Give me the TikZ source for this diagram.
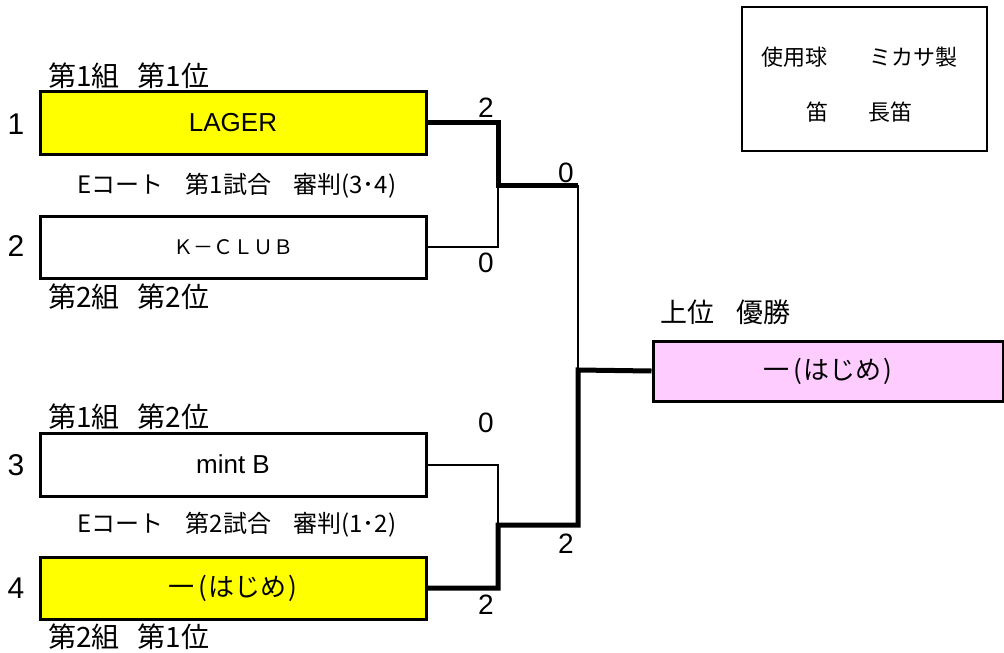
\documentclass[tikz,border=0pt]{standalone}
\usepackage{fontspec}
\setmainfont{Liberation Sans}
\newfontfamily\jp{Noto Sans CJK JP}
\newcommand{\hajime}{一\hspace{4pt}(\hspace{2pt}はじめ\hspace{2pt})}
\begin{document}
\begin{tikzpicture}[x=1pt,y=-1pt,
  team/.style={draw=black,line width=3pt,minimum width=386pt,inner sep=0pt},
  thin/.style={line width=2pt},
  thick/.style={line width=5pt},
  seed/.style={font=\fontsize{30}{32}\selectfont,inner sep=0pt},
  score/.style={font=\fontsize{28}{30}\selectfont,inner sep=0pt},
  lbl/.style={font=\jp\fontsize{28}{30}\selectfont,anchor=west,inner sep=0pt},
  info/.style={font=\jp\fontsize{24}{26}\selectfont,inner sep=0pt},
  tname/.style={font=\fontsize{26}{28}\selectfont},
  jname/.style={font=\jp\fontsize{26}{28}\selectfont}
]
\useasboundingbox (0,0) rectangle (1004,653);
\definecolor{yel}{RGB}{255,255,0}
\definecolor{pink}{RGB}{255,204,255}

\node[team,fill=yel,minimum height=63pt,tname] (b1) at (233,122.5) {LAGER};
\node[team,fill=white,minimum height=62pt,font=\jp\fontsize{20}{22}\selectfont] (b2) at (233,247) {Ｋ－ＣＬＵＢ};
\node[team,fill=white,minimum height=63pt,tname] (b3) at (233,464.5) {mint B};
\node[team,fill=yel,minimum height=62pt,jname] (b4) at (233,588) {\hajime};
\node[draw=black,line width=3pt,fill=pink,minimum width=350pt,minimum height=60pt,inner sep=0pt,jname] (w) at (828,371) {\hajime};
\node[draw=black,line width=2pt,minimum width=245pt,minimum height=144pt] (rules) at (864.5,79) {};

\node[info,font=\jp\fontsize{22}{26}\selectfont] (r1) at (859,57) {使用球\hspace{42pt}ミカサ製};
\node[info,font=\jp\fontsize{22}{26}\selectfont] (r2) at (859,112) {笛\hspace{40pt}長笛};

\node[seed] (s1) at (16,124) {1};
\node[seed] (s2) at (16,246) {2};
\node[seed] (s3) at (16,465) {3};
\node[seed] (s4) at (16,588) {4};

\node[lbl] (g1) at (48,76) {第1組\hspace{18pt}第1位};
\node[lbl] (g2) at (48,297) {第2組\hspace{18pt}第2位};
\node[lbl] (g3) at (48,417) {第1組\hspace{18pt}第2位};
\node[lbl] (g4) at (48,637) {第2組\hspace{18pt}第1位};
\node[lbl,font=\jp\fontsize{27}{30}\selectfont] (g5) at (660,312) {上位\hspace{22pt}優勝};

\node[info] (c1) at (237,186) {Eコート\hspace{22pt}第1試合\hspace{22pt}審判(3･4)};
\node[info] (c2) at (237,525) {Eコート\hspace{22pt}第2試合\hspace{22pt}審判(1･2)};

\coordinate (j1) at (498,185);
\coordinate (j2) at (498,525);
\coordinate (m1) at (578,185);
\coordinate (m2) at (578,525);
\coordinate (f) at (578,370);

\draw[thin] (b2.east) -| (j1);
\draw[thin] (b3.east) -| (j2);
\draw[thin] (m1) -- (f);
\draw[thick,line join=miter] (b1.east) -| (j1) -- (m1);
\draw[thick,line join=miter] (b4.east) -| (j2) -- (m2) -- (f) -- (w.west);

\node[score] (sc1) at (486,108) {2};
\node[score] (sc2) at (486,263) {0};
\node[score] (sc3) at (566,173) {0};
\node[score] (sc4) at (566,544) {2};
\node[score] (sc5) at (486,423) {0};
\node[score] (sc6) at (486,605) {2};
\end{tikzpicture}
\end{document}
